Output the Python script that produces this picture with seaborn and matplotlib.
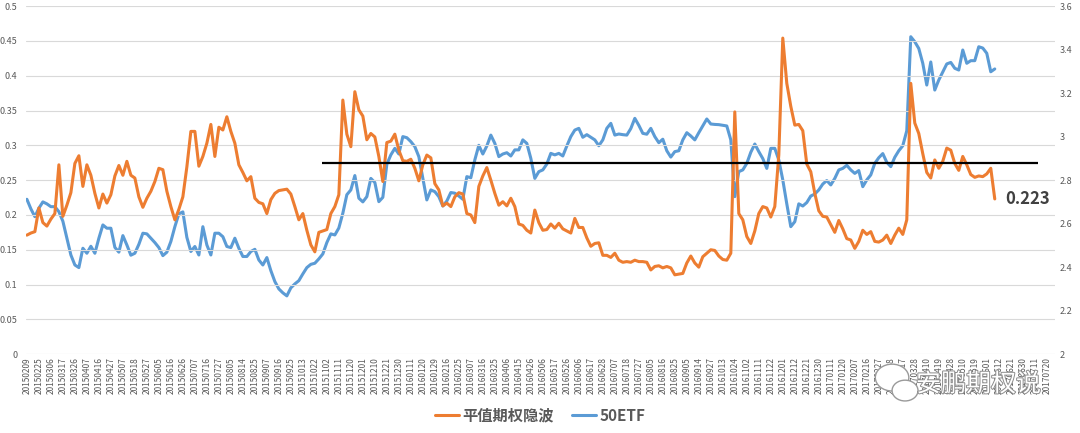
import matplotlib
matplotlib.use("Agg")
import matplotlib.pyplot as plt
import matplotlib.patheffects as pe
from matplotlib.patches import Ellipse
import numpy as np
import pandas as pd
import seaborn as sns

# tick labels, one every 7 trading days
dates = ["20150209", "20150225", "20150306", "20150317", "20150326", "20150407", "20150416", "20150427",
         "20150507", "20150518", "20150527", "20150605", "20150616", "20150626", "20150707", "20150716",
         "20150727", "20150805", "20150814", "20150825", "20150907", "20150916", "20150925", "20151013",
         "20151022", "20151102", "20151111", "20151120", "20151201", "20151210", "20151221", "20151230",
         "20160111", "20160120", "20160129", "20160216", "20160225", "20160307", "20160316", "20160325",
         "20160406", "20160415", "20160426", "20160506", "20160517", "20160526", "20160606", "20160617",
         "20160628", "20160707", "20160718", "20160727", "20160805", "20160816", "20160825", "20160905",
         "20160914", "20160927", "20161013", "20161024", "20161102", "20161111", "20161122", "20161201",
         "20161212", "20161221", "20161230", "20170111", "20170120", "20170207", "20170216", "20170227",
         "20170308", "20170317", "20170328", "20170410", "20170419", "20170428", "20170510", "20170519",
         "20170601", "20170612", "20170621", "20170630", "20170711", "20170720"]

# ATM implied vol (left axis), read every 1/3 of a label step
iv = [0.171, 0.174, 0.176, 0.210, 0.189, 0.184, 0.194, 0.202, 0.272, 0.198, 0.214, 0.232, 0.274, 0.285,
      0.241, 0.272, 0.257, 0.231, 0.210, 0.230, 0.217, 0.229, 0.256, 0.271, 0.257, 0.277, 0.257, 0.253,
      0.226, 0.211, 0.224, 0.234, 0.248, 0.267, 0.265, 0.234, 0.212, 0.193, 0.208, 0.226, 0.269, 0.320,
      0.320, 0.270, 0.284, 0.303, 0.330, 0.284, 0.326, 0.322, 0.341, 0.320, 0.303, 0.272, 0.261, 0.249,
      0.255, 0.224, 0.218, 0.216, 0.202, 0.222, 0.231, 0.235, 0.236, 0.237, 0.230, 0.212, 0.193, 0.202,
      0.178, 0.157, 0.147, 0.175, 0.177, 0.179, 0.202, 0.212, 0.229, 0.365, 0.316, 0.298, 0.377, 0.351,
      0.342, 0.308, 0.317, 0.312, 0.284, 0.248, 0.304, 0.306, 0.316, 0.293, 0.278, 0.277, 0.280, 0.267,
      0.249, 0.272, 0.286, 0.282, 0.245, 0.236, 0.213, 0.217, 0.212, 0.226, 0.232, 0.230, 0.202, 0.200,
      0.189, 0.241, 0.256, 0.268, 0.250, 0.231, 0.214, 0.219, 0.213, 0.224, 0.212, 0.187, 0.185, 0.178,
      0.174, 0.207, 0.189, 0.178, 0.179, 0.187, 0.181, 0.188, 0.180, 0.177, 0.174, 0.195, 0.182, 0.182,
      0.167, 0.155, 0.159, 0.160, 0.142, 0.142, 0.139, 0.145, 0.135, 0.132, 0.133, 0.132, 0.135, 0.133,
      0.133, 0.132, 0.121, 0.126, 0.127, 0.124, 0.126, 0.124, 0.114, 0.115, 0.116, 0.131, 0.141, 0.131,
      0.125,
      0.140, 0.145, 0.150, 0.149, 0.141, 0.136, 0.135, 0.145, 0.348, 0.202, 0.193, 0.169, 0.159, 0.177,
      0.202, 0.212, 0.210, 0.197, 0.212, 0.286, 0.454, 0.389, 0.356, 0.329, 0.330, 0.321, 0.273, 0.262,
      0.231, 0.206, 0.198, 0.197, 0.186, 0.175, 0.192, 0.180, 0.166, 0.164, 0.152, 0.162, 0.178, 0.172,
      0.176, 0.162, 0.161, 0.164, 0.171, 0.159, 0.171, 0.181, 0.172, 0.193, 0.389, 0.332, 0.317, 0.288,
      0.261, 0.253, 0.279, 0.267, 0.277, 0.296, 0.293, 0.274, 0.264, 0.284, 0.272, 0.258, 0.254, 0.256,
      0.255, 0.259, 0.267, 0.223]

# 50ETF price (right axis)
etf = [2.712, 2.668, 2.632, 2.671, 2.700, 2.691, 2.678, 2.678, 2.655, 2.611, 2.533, 2.456, 2.410, 2.398,
       2.487, 2.464, 2.496, 2.464, 2.533, 2.594, 2.579, 2.579, 2.491, 2.469, 2.545, 2.502, 2.455, 2.464,
       2.505, 2.556, 2.553, 2.533, 2.513, 2.490, 2.453, 2.469, 2.518, 2.586, 2.645, 2.654, 2.537, 2.472,
       2.495, 2.456, 2.586, 2.502, 2.456, 2.556, 2.556, 2.540, 2.495, 2.490, 2.533, 2.487, 2.449, 2.449,
       2.472, 2.482, 2.433, 2.410, 2.444, 2.384, 2.334, 2.300, 2.282, 2.268, 2.305, 2.323, 2.338, 2.369,
       2.398, 2.413, 2.418, 2.438, 2.461, 2.513, 2.553, 2.548, 2.580, 2.648, 2.733, 2.755, 2.821, 2.717,
       2.700, 2.724, 2.808, 2.789, 2.701, 2.721, 2.873, 2.916, 2.946, 2.920, 3.000, 2.995, 2.977, 2.954,
       2.908, 2.808, 2.709, 2.755, 2.747, 2.724, 2.681, 2.704, 2.743, 2.740, 2.727, 2.712, 2.816, 2.811,
       2.893, 2.960, 2.920, 2.957, 3.007, 2.969, 2.908, 2.920, 2.926, 2.911, 2.939, 2.939, 2.985, 2.969,
       2.900, 2.808, 2.839, 2.847, 2.874, 2.923, 2.916, 2.923, 2.911, 2.957, 3.000, 3.030, 3.038, 2.997,
       3.009, 2.997, 2.985, 2.958, 2.985, 3.038, 3.061, 3.007, 3.012, 3.009, 3.007, 3.037, 3.084, 3.052,
       3.015, 3.011, 3.038, 3.000, 2.972, 2.988, 2.935, 2.906, 2.931, 2.935, 2.985, 3.018, 3.003, 2.985,
       3.018,
       3.049, 3.081, 3.058, 3.056, 3.055, 3.052, 3.049, 2.985, 2.724, 2.839, 2.847, 2.877, 2.928, 2.966,
       2.931, 2.899, 2.854, 2.946, 2.946, 2.893, 2.801, 2.691, 2.586, 2.609, 2.691, 2.681, 2.697, 2.727,
       2.736, 2.755, 2.782, 2.798, 2.778, 2.808, 2.847, 2.854, 2.868, 2.847, 2.831, 2.844, 2.770, 2.801,
       2.824, 2.877, 2.903, 2.922, 2.882, 2.862, 2.905, 2.935, 2.958, 3.027, 3.459, 3.436, 3.405, 3.337,
       3.237, 3.343, 3.214, 3.260, 3.297, 3.334, 3.341, 3.314, 3.306, 3.398, 3.337, 3.349, 3.349, 3.413,
       3.407, 3.383, 3.298, 3.311]

samples_per_label = 3
avg_level = 0.275
avg_span = (24.6, 84.25)  # in label steps
left_ticks = [0, 0.05, 0.1, 0.15, 0.2, 0.25, 0.3, 0.35, 0.4, 0.45, 0.5]
left_labels = ["0", "0.05", "0.1", "0.15", "0.2", "0.25", "0.3", "0.35", "0.4", "0.45", "0.5"]
right_ticks = [2, 2.2, 2.4, 2.6, 2.8, 3, 3.2, 3.4, 3.6]
right_labels = ["2", "2.2", "2.4", "2.6", "2.8", "3", "3.2", "3.4", "3.6"]

df = pd.DataFrame({"pos": np.arange(len(iv)) / samples_per_label, "iv": iv, "etf": etf})

sns.set_theme(style="white")
plt.rcParams["font.family"] = ["Noto Sans CJK SC", "DejaVu Sans"]

orange = "#ED7D31"
blue = "#5B9BD5"
grey = "#595959"

fig = plt.figure(figsize=(10.8, 4.33), dpi=100)
ax = fig.add_axes([0.024, 0.182, 0.953, 0.804])
ax2 = ax.twinx()

sns.lineplot(data=df, x="pos", y="iv", ax=ax, color=orange, linewidth=2.2, label="平值期权隐波", legend=False)
sns.lineplot(data=df, x="pos", y="etf", ax=ax2, color=blue, linewidth=2.2, label="50ETF", legend=False)
ax.set_zorder(ax2.get_zorder() + 1)
ax.patch.set_visible(False)

ax.hlines(avg_level, avg_span[0], avg_span[1], color="black", linewidth=1.6, zorder=5)
ax.annotate(f"{iv[-1]:.3f}", xy=(df["pos"].iloc[-1], iv[-1]), xytext=(10, 0), textcoords="offset pixels",
            va="center", ha="left", fontsize=12, fontweight="bold", color="#404040")

ax.set_xlim(-0.08, 85.7)
ax.set_ylim(0, 0.5)
ax2.set_ylim(2, 3.6)
ax.set_xticks(range(len(dates)))
ax.set_xticklabels(dates, rotation=90)
ax.set_yticks(left_ticks)
ax.set_yticklabels(left_labels)
ax2.set_yticks(right_ticks)
ax2.set_yticklabels(right_labels)
ax.set_xlabel("")
ax.set_ylabel("")
ax2.set_ylabel("")

ax.grid(axis="y", color="#D9D9D9", linewidth=0.8)
ax.grid(axis="x", visible=False)
ax2.grid(False)
for a in (ax, ax2):
    for s in a.spines.values():
        s.set_visible(False)
    a.tick_params(length=0, colors=grey, labelsize=6.5, pad=3)
ax.tick_params(axis="x", labelsize=6, pad=2)
ax.tick_params(axis="y", pad=6)

handles = [ax.lines[0], ax2.lines[0]]
leg = fig.legend(handles, ["平值期权隐波", "50ETF"], loc="center", bbox_to_anchor=(0.5, 0.04), ncol=2,
                 frameon=False, handlelength=1.6, columnspacing=1.2, handletextpad=0.2)
for t in leg.get_texts():
    t.set_color(grey)
    t.set_fontweight("bold")
    t.set_fontsize(11)

# watermark
fig.text(0.906, 0.112, "安鹏期权说", ha="center", va="center", fontsize=18, color="white",
         path_effects=[pe.withStroke(linewidth=1.4, foreground="#8c8c8c")], zorder=10)
for (cx, cy, w, h) in [(0.826, 0.128, 0.031, 0.062), (0.838, 0.098, 0.024, 0.048)]:
    fig.add_artist(Ellipse((cx, cy), w, h, transform=fig.transFigure, facecolor="white",
                           edgecolor="#9a9a9a", linewidth=1.0, zorder=9))

fig.savefig("out.png", dpi=100)
